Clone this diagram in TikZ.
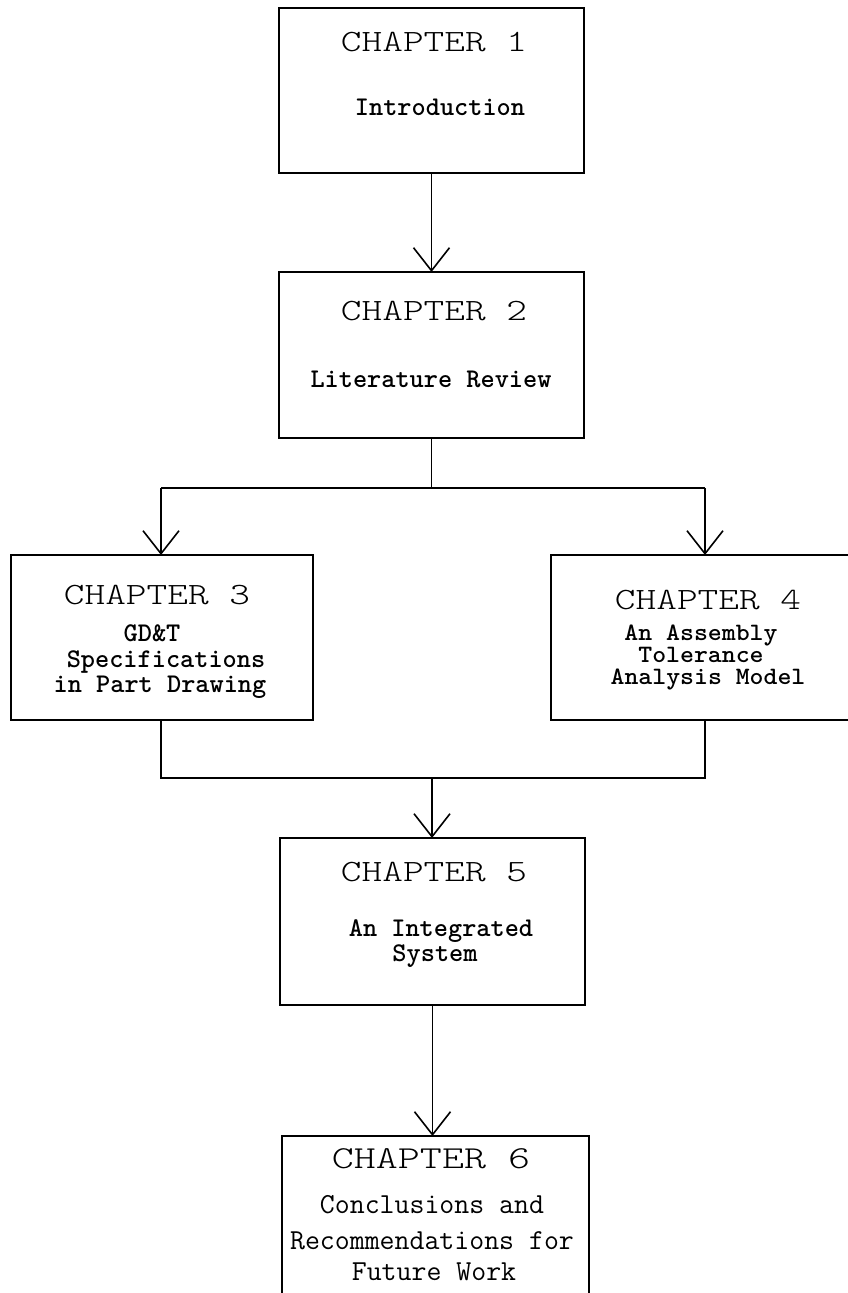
\documentclass[tikz,border=0pt]{standalone}
\usepackage{graphicx}
\usetikzlibrary{arrows.meta}
\newcommand\wideA[1]{\scalebox{1.27}[1]{#1}}
\newcommand\wideB[1]{\scalebox{1.31}[1]{#1}}
\newcommand\wideC[1]{\scalebox{1.06}[1]{#1}}
\begin{document}
\begin{tikzpicture}[x=1pt,y=-1pt,
  box/.style={draw,line width=1.8pt,rectangle,inner sep=0pt,outer sep=0pt},
  ln/.style={line width=1.6pt},
  arr/.style={line width=1.6pt,-{Straight Barb[length=23pt,width=36pt]}},
  hd/.style={anchor=base,inner sep=0pt,font=\ttfamily\fontseries{l}\fontsize{31}{31}\selectfont},
  hdsix/.style={anchor=base,inner sep=0pt,font=\ttfamily\fontseries{l}\fontsize{32}{32}\selectfont},
  sub/.style={anchor=base,inner sep=0pt,font=\ttfamily\fontseries{b}\fontsize{27}{27}\selectfont},
  subsm/.style={anchor=base,inner sep=0pt,font=\ttfamily\fontseries{b}\fontsize{25}{25}\selectfont},
  six/.style={anchor=base,inner sep=0pt,font=\ttfamily\fontsize{29}{29}\selectfont}]
\useasboundingbox (0,0) rectangle (847,1293);

% boxes
\node[box,minimum width=305pt,minimum height=165pt] (b1) at (431.5,90.5) {};
\node[box,minimum width=305pt,minimum height=166pt] (b2) at (431.5,355) {};
\node[box,minimum width=302pt,minimum height=165pt] (b3) at (162,637.5) {};
\node[box,minimum width=299pt,minimum height=165pt] (b4) at (700.5,637.5) {};
\node[box,minimum width=305pt,minimum height=167pt] (b5) at (432.5,921.5) {};
\node[box,minimum width=307pt,minimum height=164pt] (b6) at (435.5,1218) {};

% texts
\node[hd] (t1) at (434,51.5) {\wideA{CHAPTER 1}};
\node[sub] (s1) at (440,115) {Introduction};

\node[hd] (t2) at (434,320) {\wideA{CHAPTER 2}};
\node[sub] (s2) at (431,387) {Literature Review};

\node[hd] (t3) at (157,604) {\wideA{CHAPTER 3}};
\node[sub] (s3a) at (152,641) {GD\&T};
\node[sub] (s3b) at (166,667) {Specifications};
\node[sub] (s3c) at (160,692) {in Part Drawing};

\node[hd] (t4) at (708,609) {\wideA{CHAPTER 4}};
\node[subsm] (s4a) at (701,640) {\wideC{An Assembly}};
\node[subsm] (s4b) at (701,662) {\wideC{Tolerance}};
\node[subsm] (s4c) at (708,684) {\wideC{Analysis Model}};

\node[hd] (t5) at (434,881) {\wideA{CHAPTER 5}};
\node[sub] (s5a) at (441,936) {An Integrated};
\node[sub] (s5b) at (435,961) {System};

\node[hdsix] (t6) at (431,1168) {\wideB{CHAPTER 6}};
\node[six] (s6a) at (432,1213) {Conclusions and};
\node[six] (s6b) at (432,1249) {Recommendations for};
\node[six] (s6c) at (434,1280) {Future Work};

% connectors
\coordinate (br) at (431.5,488);
\coordinate (brL) at (161,488);
\coordinate (brR) at (705,488);
\coordinate (mg) at (432,778);

\draw[arr] (b1.south) -- (b2.north);
\draw[ln] (b2.south) -- (br);
\draw[ln] (brL) -- (brR);
\draw[arr] (brL) -- (brL |- b3.north);
\draw[arr] (brR) -- (brR |- b4.north);
\draw[ln] (brL |- b3.south) |- (brR |- mg) -- (brR |- b4.south);
\draw[arr] (mg) -- (mg |- b5.north);
\draw[arr] (b5.south) -- (b5.south |- b6.north);
\end{tikzpicture}
\end{document}
